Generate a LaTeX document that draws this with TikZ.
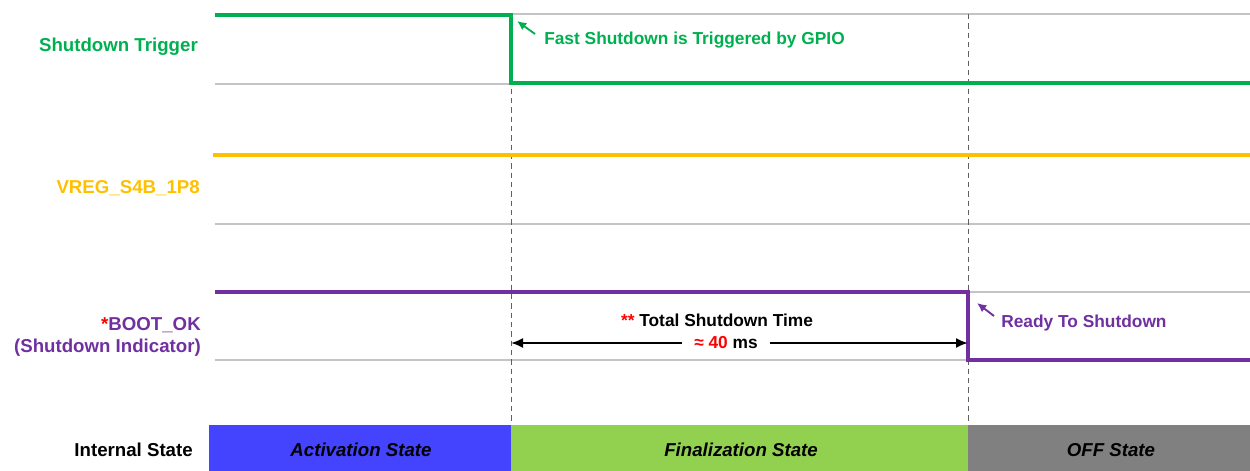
\documentclass[tikz,border=0pt]{standalone}
\usepackage{fontspec}
\usetikzlibrary{arrows.meta}
\setmainfont{Liberation Sans}
\definecolor{sigGreen}{HTML}{00B050}
\definecolor{sigYellow}{HTML}{FFC000}
\definecolor{sigPurple}{HTML}{7030A0}
\definecolor{gridGray}{HTML}{C4C4C4}
\definecolor{dashGray}{HTML}{606060}
\definecolor{barBlue}{HTML}{4444FF}
\definecolor{barGreen}{HTML}{92D050}
\definecolor{barGray}{HTML}{808080}
\begin{document}
\begin{tikzpicture}[x=0.75pt, y=-0.75pt, >={Latex[length=9pt,width=7.5pt]},
    grille/.style={draw=gridGray, line width=1.1pt},
    repere/.style={draw=dashGray, line width=0.7pt, dash pattern=on 4pt off 3pt},
    signal/.style={line width=2.4pt},
    fleche/.style={line width=1.4pt, -{Latex[length=7pt,width=6.5pt]}},
    lbl/.style={inner sep=0pt, font=\bfseries\fontsize{14}{17}\selectfont},
    note/.style={inner sep=0pt, font=\bfseries\fontsize{13}{16}\selectfont},
    etat/.style={inner sep=0pt, font=\bfseries\itshape\fontsize{14}{17}\selectfont}]
    \useasboundingbox (0,0) rectangle (1250,471);

    % Grille
    \foreach \y in {14,84,155,224,292,360} {
        \draw[grille] (215,\y) -- (1250,\y);
    }

    % Reperes verticaux
    \draw[repere] (511,14) -- (511,425);
    \draw[repere] (968,14) -- (968,425);

    % Signaux
    \draw[signal, sigGreen] (215,15) -- (511,15) -- (511,83) -- (1250,83);
    \draw[signal, sigYellow, line width=3pt] (213,155) -- (1250,155);
    \draw[signal, sigPurple] (215,292) -- (968,292) -- (968,360) -- (1250,360);

    % Noms des signaux
    \node[lbl, text=sigGreen, anchor=east] (trigLabel) at (198,47) {Shutdown Trigger};
    \node[lbl, text=sigYellow, anchor=east] (vregLabel) at (200,188) {VREG\_S4B\_1P8};
    \node[lbl, text=sigPurple, anchor=east, align=right] (bootLabel) at (201,337)
        {\textcolor{red}{*}BOOT\_OK\\(Shutdown Indicator)};
    \node[lbl, anchor=east] (stateLabel) at (193,450) {Internal State};

    % Annotations
    \coordinate (trigTail) at (535,34);
    \coordinate (trigHead) at (517,21);
    \draw[fleche, sigGreen] (trigTail) -- (trigHead);
    \node[note, text=sigGreen, anchor=west] (trigNote) at (544,40) {Fast Shutdown is Triggered by GPIO};

    \coordinate (readyTail) at (994,316);
    \coordinate (readyHead) at (977,303);
    \draw[fleche, sigPurple] (readyTail) -- (readyHead);
    \node[note, text=sigPurple, anchor=west] (readyNote) at (1001,323) {Ready To Shutdown};

    % Duree totale
    \node[note] (totalTxt) at (717,320) {\textcolor{red}{**} Total Shutdown Time};
    \node[note, inner xsep=9pt] (timeVal) at (726,343) {\textcolor{red}{≈ 40} ms};
    \coordinate (tStart) at (511,343);
    \coordinate (tEnd) at (968,343);
    \draw[<-, line width=1.5pt] (tStart) -- (timeVal.west);
    \draw[->, line width=1.5pt] (timeVal.east) -- (tEnd);

    % Etats internes
    \fill[barBlue] (209,425) rectangle (511,471);
    \fill[barGreen] (511,425) rectangle (968,471);
    \fill[barGray] (968,425) rectangle (1250,471);
    \node[etat] (actState) at (361,450) {Activation State};
    \node[etat] (finState) at (741,450) {Finalization State};
    \node[etat] (offState) at (1111,450) {OFF State};
\end{tikzpicture}
\end{document}
